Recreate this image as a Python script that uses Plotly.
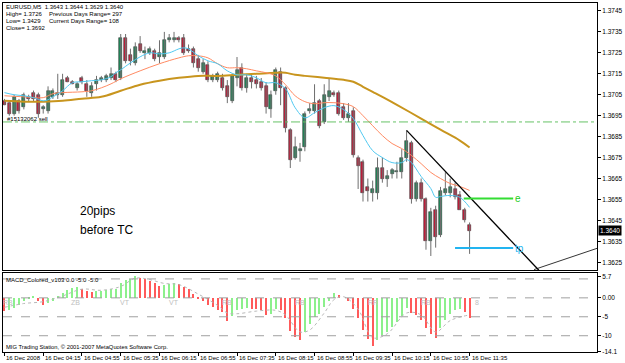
import plotly.graph_objects as go

# ---------------- data ----------------
opens = [1.3702,1.3701,1.3696,1.3702,1.3699,1.3704,1.3706,1.3705,1.3698,1.3697,
         1.3704,1.3705,1.3705,1.3713,1.3711,1.3708,1.3713,1.3710,1.3706,1.3710,
         1.3712,1.3712,1.3713,1.3715,1.3713,1.3732,1.3724,1.3720,1.3729,1.3725,
         1.3725,1.3726,1.3723,1.3723,1.3731,1.3731,1.3732,1.3732,1.3727,1.3727,
         1.3722,1.3716,1.3719,1.3712,1.3712,1.3713,1.3709,1.3702,1.3713,1.3718,
         1.3708,1.3713,1.3712,1.3711,1.3709,1.3698,1.3707,1.3716,1.3708,1.3688,
         1.3675,1.3678,1.3680,1.3697,1.3697,1.3702,1.3692,1.3704,1.3706,1.3706,
         1.3699,1.3694,1.3697,1.3675,1.3673,1.3661,1.3658,1.3658,1.3670,1.3665,
         1.3667,1.3668,1.3668,1.3675,1.3682,1.3655,1.3663,1.3655,1.3635,1.3650,
         1.3638,1.3658,1.3658,1.3660,1.3657,1.3650,1.3643]
highs = [1.3703,1.3702,1.3705,1.3703,1.3706,1.3705,1.3707,1.3706,1.3700,1.3709,
         1.3708,1.3715,1.3715,1.3714,1.3712,1.3711,1.3714,1.3712,1.3711,1.3714,
         1.3714,1.3715,1.3718,1.3716,1.3734,1.3734,1.3727,1.3730,1.3733,1.3728,
         1.3728,1.3727,1.3731,1.3735,1.3734,1.3735,1.3733,1.3734,1.3729,1.3728,
         1.3724,1.3722,1.3721,1.3715,1.3716,1.3715,1.3712,1.3715,1.3723,1.3720,
         1.3715,1.3715,1.3714,1.3713,1.3711,1.3707,1.3718,1.3718,1.3709,1.3689,
         1.3685,1.3682,1.3697,1.3701,1.3710,1.3703,1.3710,1.3713,1.3707,1.3707,
         1.3701,1.3701,1.3699,1.3676,1.3674,1.3665,1.3664,1.3675,1.3675,1.3669,
         1.3670,1.3673,1.3679,1.3688,1.3683,1.3664,1.3665,1.3656,1.3651,1.3652,
         1.3661,1.3668,1.3665,1.3663,1.3659,1.3651,1.3644]
lows = [1.3700,1.3695,1.3695,1.3696,1.3698,1.3702,1.3702,1.3694,1.3696,1.3696,
        1.3703,1.3703,1.3704,1.3711,1.3710,1.3707,1.3710,1.3704,1.3704,1.3707,
        1.3711,1.3711,1.3712,1.3711,1.3712,1.3720,1.3719,1.3719,1.3725,1.3722,
        1.3724,1.3721,1.3720,1.3722,1.3730,1.3730,1.3730,1.3724,1.3725,1.3718,
        1.3716,1.3715,1.3711,1.3711,1.3711,1.3707,1.3701,1.3701,1.3709,1.3707,
        1.3706,1.3708,1.3708,1.3707,1.3696,1.3694,1.3705,1.3700,1.3687,1.3670,
        1.3674,1.3673,1.3678,1.3696,1.3696,1.3689,1.3691,1.3702,1.3704,1.3695,
        1.3693,1.3692,1.3675,1.3660,1.3654,1.3654,1.3654,1.3655,1.3663,1.3661,
        1.3665,1.3665,1.3665,1.3673,1.3653,1.3654,1.3654,1.3631,1.3628,1.3632,
        1.3637,1.3657,1.3656,1.3655,1.3650,1.3644,1.3629]
closes = [1.3700,1.3696,1.3704,1.3697,1.3705,1.3703,1.3703,1.3696,1.3699,1.3707,
          1.3707,1.3706,1.3712,1.3711,1.3710,1.3710,1.3711,1.3707,1.3709,1.3712,
          1.3713,1.3714,1.3715,1.3712,1.3732,1.3721,1.3721,1.3728,1.3726,1.3726,
          1.3727,1.3722,1.3725,1.3731,1.3732,1.3732,1.3731,1.3725,1.3726,1.3720,
          1.3718,1.3720,1.3712,1.3714,1.3715,1.3708,1.3704,1.3714,1.3717,1.3708,
          1.3713,1.3711,1.3710,1.3708,1.3699,1.3705,1.3717,1.3708,1.3689,1.3674,
          1.3680,1.3679,1.3696,1.3698,1.3701,1.3690,1.3705,1.3707,1.3705,1.3696,
          1.3694,1.3696,1.3676,1.3671,1.3658,1.3659,1.3660,1.3670,1.3665,1.3666,
          1.3669,1.3668,1.3675,1.3683,1.3655,1.3663,1.3655,1.3635,1.3649,1.3637,
          1.3659,1.3660,1.3661,1.3656,1.3650,1.3645,1.3640]

# moving averages (bar index, price)
ma_fast_x = [0,2,4,6,8,9,10,12,14,16,18,20,22,23,24,26,28,30,32,34,36,37,38,40,42,44,46,48,50,
             52,54,56,58,60,62,64,66,68,70,72,74,76,78,80,82,83,84,86,88,89,90,92,94,96]
ma_fast_y = [1.37060,1.37050,1.37045,1.37036,1.37021,1.37026,1.37040,1.37069,1.37107,1.37112,
             1.37117,1.37121,1.37136,1.37155,1.37169,1.37202,1.37231,1.37250,1.37245,1.37250,
             1.37269,1.37274,1.37269,1.37236,1.37212,1.37198,1.37164,1.37145,1.37145,1.37131,
             1.37107,1.37107,1.37079,1.36988,1.36940,1.36964,1.36988,1.36998,1.36979,1.36936,
             1.36855,1.36783,1.36750,1.36726,1.36726,1.36740,1.36726,1.36660,1.36602,1.36560,
             1.36564,1.36569,1.36560,1.36512]
ma_mid_x = [0,4,8,10,12,16,18,20,22,24,28,32,36,38,40,42,44,46,48,50,52,54,56,58,60,62,64,66,68,
            70,72,74,76,78,80,82,84,86,88,90,92,94,96]
ma_mid_y = [1.37045,1.37040,1.37036,1.37055,1.37060,1.37064,1.37069,1.37083,1.37102,1.37126,
            1.37164,1.37198,1.37226,1.37236,1.37236,1.37226,1.37198,1.37179,1.37179,1.37174,
            1.37164,1.37155,1.37140,1.37098,1.37045,1.37017,1.37007,1.37012,1.37012,1.37007,
            1.36993,1.36950,1.36902,1.36855,1.36817,1.36793,1.36760,1.36721,1.36679,1.36650,
            1.36626,1.36612,1.36593]
ma_slow_x = [0,4,8,12,16,20,24,28,32,36,40,44,48,52,56,58,60,62,66,70,72,74,76,78,81,86,90,94,96]
ma_slow_y = [1.37021,1.37017,1.37017,1.37021,1.37031,1.37040,1.37069,1.37098,1.37117,1.37131,
             1.37140,1.37140,1.37145,1.37150,1.37155,1.37155,1.37145,1.37140,1.37131,1.37121,
             1.37112,1.37088,1.37064,1.37040,1.37002,1.36936,1.36883,1.36831,1.36798]

# MACD histogram
macd = [-3.5,-3.2,-2.8,-2.0,-0.8,-0.4,0.2,-1.0,-2.0,-1.5,
        -0.8,0.3,1.2,2.0,2.6,2.9,2.2,1.8,1.6,1.7,
        1.8,2.0,2.3,2.4,3.8,4.6,5.0,5.7,5.3,4.8,
        4.4,3.9,3.2,3.4,3.7,3.9,3.6,2.9,2.2,1.0,
        -0.3,-1.0,-2.0,-2.6,-3.2,-3.7,-6.2,-4.8,-3.4,-3.0,
        -2.8,-2.9,-3.1,-3.4,-4.5,-4.3,-3.0,-3.2,-5.5,-8.7,
        -10.5,-11.1,-9.0,-7.0,-5.2,-4.4,-2.6,-1.0,1.2,0.8,
        0.0,-0.8,-3.0,-5.5,-8.5,-10.8,-12.9,-11.2,-10.0,-9.0,
        -7.8,-6.5,-4.8,-2.7,-4.0,-4.6,-5.8,-8.0,-9.6,-10.7,
        -8.0,-6.0,-4.3,-3.3,-3.0,-3.8,-5.4]
signal_x = [0,4,8,12,16,20,24,27,30,33,36,40,44,46,48,52,56,58,61,63,66,68,70,73,76,79,83,86,89,92,96]
signal_y = [-2.5,-1.5,-1.0,0.5,2.3,2.0,3.0,5.2,4.8,3.8,3.5,1.0,-2.0,-4.0,-4.2,-3.5,-3.3,-4.5,-9.0,
            -8.5,-4.0,-0.5,0.3,-3.0,-10.5,-9.5,-4.0,-4.5,-9.0,-6.0,-4.5]
macd_tags = ["RB", "ZB", "VT", "VT", "RB", "RB", "RR", "RB", "8"]
macd_tag_x = [0.8, 14.7, 24.9, 35, 46, 61, 76, 87, 97.5]

# axis labels
time_idx = [0, 8, 16, 24, 32, 40, 48, 56, 64, 72, 80, 88, 96]
time_text = ["16 Dec 2008", "16 Dec 04:15", "16 Dec 04:55", "16 Dec 05:35", "16 Dec 06:15",
             "16 Dec 06:55", "16 Dec 07:35", "16 Dec 08:15", "16 Dec 08:55", "16 Dec 09:35",
             "16 Dec 10:15", "16 Dec 10:55", "16 Dec 11:35"]
price_ticks = [1.3745, 1.3735, 1.3725, 1.3715, 1.3705, 1.3695, 1.3685, 1.3675, 1.3665,
               1.3655, 1.3645, 1.3635, 1.3625]
macd_ticks = [5.7, 0.0, -5, -10, -14.1]
macd_tick_text = ["5.7", "0.00", "-5", "-10", "-14.1"]
macd_levels = [5, 0, -5, -10]

# objects on chart
sell_level = 1.3692
last_price = 1.3640
trend1_x = [83.0, 110.3]
trend1_y = [1.3688, 1.36212]
trend2_x = [109.3, 122.5]
trend2_y = [1.36215, 1.36318]
entry_x = [94.8, 105.0]
entry_price = 1.36555
tp_x = [93.0, 105.0]
tp_price = 1.36318

# ---------------- figure ----------------
BULL = "#1f8a5a"
BEAR = "#cc1a3a"
WICK = "#6e6e6e"
FONT = "Liberation Sans"

n = len(opens)
idx = list(range(n))
fig = go.Figure()

# wicks
wx, wy = [], []
for i in idx:
    wx += [i, i, None]
    wy += [lows[i], highs[i], None]
fig.add_trace(go.Scatter(x=wx, y=wy, mode="lines", line=dict(color=WICK, width=1),
                         hoverinfo="skip", showlegend=False, xaxis="x", yaxis="y"))
# bodies
base = [min(o, c) for o, c in zip(opens, closes)]
hgt = [max(abs(c - o), 0.00004) for o, c in zip(opens, closes)]
cols = [BULL if c >= o else BEAR for o, c in zip(opens, closes)]
fig.add_trace(go.Bar(x=idx, y=hgt, base=base, width=0.62,
                     marker=dict(color=cols, line=dict(color="#3a3a3a", width=0.6)),
                     showlegend=False, xaxis="x", yaxis="y"))

# moving averages
fig.add_trace(go.Scatter(x=ma_slow_x, y=ma_slow_y, mode="lines",
                         line=dict(color="#c8951e", width=2, shape="spline"),
                         showlegend=False, xaxis="x", yaxis="y"))
fig.add_trace(go.Scatter(x=ma_mid_x, y=ma_mid_y, mode="lines",
                         line=dict(color="#ff8a62", width=1, shape="spline"),
                         showlegend=False, xaxis="x", yaxis="y"))
fig.add_trace(go.Scatter(x=ma_fast_x, y=ma_fast_y, mode="lines",
                         line=dict(color="#4fc8f0", width=1, shape="spline"),
                         showlegend=False, xaxis="x", yaxis="y"))

# trend lines / order lines
fig.add_trace(go.Scatter(x=trend1_x, y=trend1_y, mode="lines", line=dict(color="black", width=1.3),
                         showlegend=False, xaxis="x", yaxis="y"))
fig.add_trace(go.Scatter(x=trend2_x, y=trend2_y, mode="lines", line=dict(color="black", width=0.8),
                         showlegend=False, xaxis="x", yaxis="y"))
fig.add_trace(go.Scatter(x=entry_x, y=[entry_price] * 2, mode="lines", line=dict(color="#33dd33", width=2),
                         showlegend=False, xaxis="x", yaxis="y"))
fig.add_trace(go.Scatter(x=tp_x, y=[tp_price] * 2, mode="lines", line=dict(color="#22b4f0", width=2),
                         showlegend=False, xaxis="x", yaxis="y"))

# MACD histogram
mcols = []
for i, v in enumerate(macd):
    if i == 0 or v < macd[i - 1]:
        mcols.append("#ff5a5a")
    else:
        mcols.append("#8cf08c")
fig.add_trace(go.Bar(x=idx, y=macd, width=0.22, marker=dict(color=mcols, line=dict(width=0)),
                     showlegend=False, xaxis="x2", yaxis="y2"))
fig.add_trace(go.Scatter(x=signal_x, y=signal_y, mode="lines",
                         line=dict(color="#b8b8b8", width=1, dash="dot", shape="spline"),
                         showlegend=False, xaxis="x2", yaxis="y2"))

XR = [-0.3, 122.3]
axis_common = dict(showgrid=False, zeroline=False, showline=True, linecolor="black",
                   linewidth=1, mirror=True)
fig.update_layout(
    width=625, height=363,
    margin=dict(l=2, r=22, t=2, b=11),
    paper_bgcolor="white", plot_bgcolor="white",
    barmode="overlay", bargap=0,
    xaxis=dict(domain=[0, 1], range=XR, anchor="y", showticklabels=False, ticks="", **axis_common),
    xaxis2=dict(domain=[0, 1], range=XR, anchor="y2", showticklabels=False,
                tickvals=time_idx, ticks="outside", ticklen=3, tickcolor="black", **axis_common),
    yaxis=dict(domain=[0.2343, 1], range=[1.36212, 1.37488], side="right", anchor="x",
               tickvals=price_ticks, ticktext=[f"{p:.4f}" for p in price_ticks],
               ticks="outside", ticklen=3, tickcolor="black",
               tickfont=dict(family=FONT, size=6.5, color="black"), **axis_common),
    yaxis2=dict(domain=[0, 0.2257], range=[-14.3, 6.5], side="right", anchor="x2",
                tickvals=macd_ticks, ticktext=macd_tick_text,
                ticks="outside", ticklen=3, tickcolor="black",
                tickfont=dict(family=FONT, size=6.5, color="black"), **axis_common),
    font=dict(family=FONT, color="black"),
)

# dashed sell level
fig.add_shape(type="line", xref="x domain", x0=0, x1=1, yref="y", y0=sell_level, y1=sell_level,
              line=dict(color="#66c266", width=1, dash="dashdot"))
# MACD levels
for lv in macd_levels:
    fig.add_shape(type="line", xref="x2 domain", x0=0, x1=1, yref="y2", y0=lv, y1=lv,
                  line=dict(color="#a0a0a0", width=1, dash="dash"))


def P(xpx, ypx):
    return (xpx - 2) / 601, (352 - ypx) / 350


def txt(text, xpx, ypx, size=8, color="black", **kw):
    px, py = P(xpx, ypx)
    fig.add_annotation(text=text, x=px, y=py, xref="paper", yref="paper", xanchor="left",
                       yanchor="middle", showarrow=False, font=dict(family=FONT, size=size, color=color),
                       **kw)


txt("EURUSD,M5  1.3643 1.3644 1.3629 1.3640", 3, 6, 6)
txt("High= 1.3726", 3, 13, 6)
txt("Previous Days Range= 297", 47, 13, 6)
txt("Low= 1.3429", 3, 20, 6)
txt("Current Days Range= 108", 47, 20, 6)
txt("Close= 1.3692", 3, 27.5, 6)
txt("#15132062 sell", 4, 118, 6)
txt("20pips", 78, 211, 12)
txt("before TC", 78, 230, 12)
txt("MACD_Colored_v103 0.0 -5.0 -5.0", 3, 280, 6)
txt("MIG Trading Station, © 2001-2007 MetaQuotes Software Corp.", 3, 347, 5.8)

# e / tp labels
fig.add_annotation(text="e", x=entry_x[1], y=entry_price, xref="x", yref="y", xanchor="left",
                   showarrow=False, font=dict(family=FONT, size=10, color="#22cc22"))
fig.add_annotation(text="tp", x=tp_x[1], y=tp_price, xref="x", yref="y", xanchor="left",
                   showarrow=False, font=dict(family=FONT, size=10, color="#22b4f0"))

# last price box
fig.add_annotation(text=f"{last_price:.4f}", x=1.0, y=last_price, xref="paper", yref="y",
                   xanchor="left", xshift=1, showarrow=False, bgcolor="black", borderpad=1,
                   font=dict(family=FONT, size=6.5, color="white"))

# MACD tags
for t, xv in zip(macd_tags, macd_tag_x):
    fig.add_annotation(text=t, x=xv, y=0, xref="x2", yref="y2", yshift=-5, showarrow=False,
                       font=dict(family=FONT, size=7, color="#c0c0c0"))

# time labels (left aligned at bar)
for ti, tt in zip(time_idx, time_text):
    fig.add_annotation(text=tt, x=ti, y=0, xref="x2", yref="paper", xanchor="left", yanchor="top",
                       yshift=-1, showarrow=False, font=dict(family=FONT, size=6, color="black"))

fig.write_html("out.html")
